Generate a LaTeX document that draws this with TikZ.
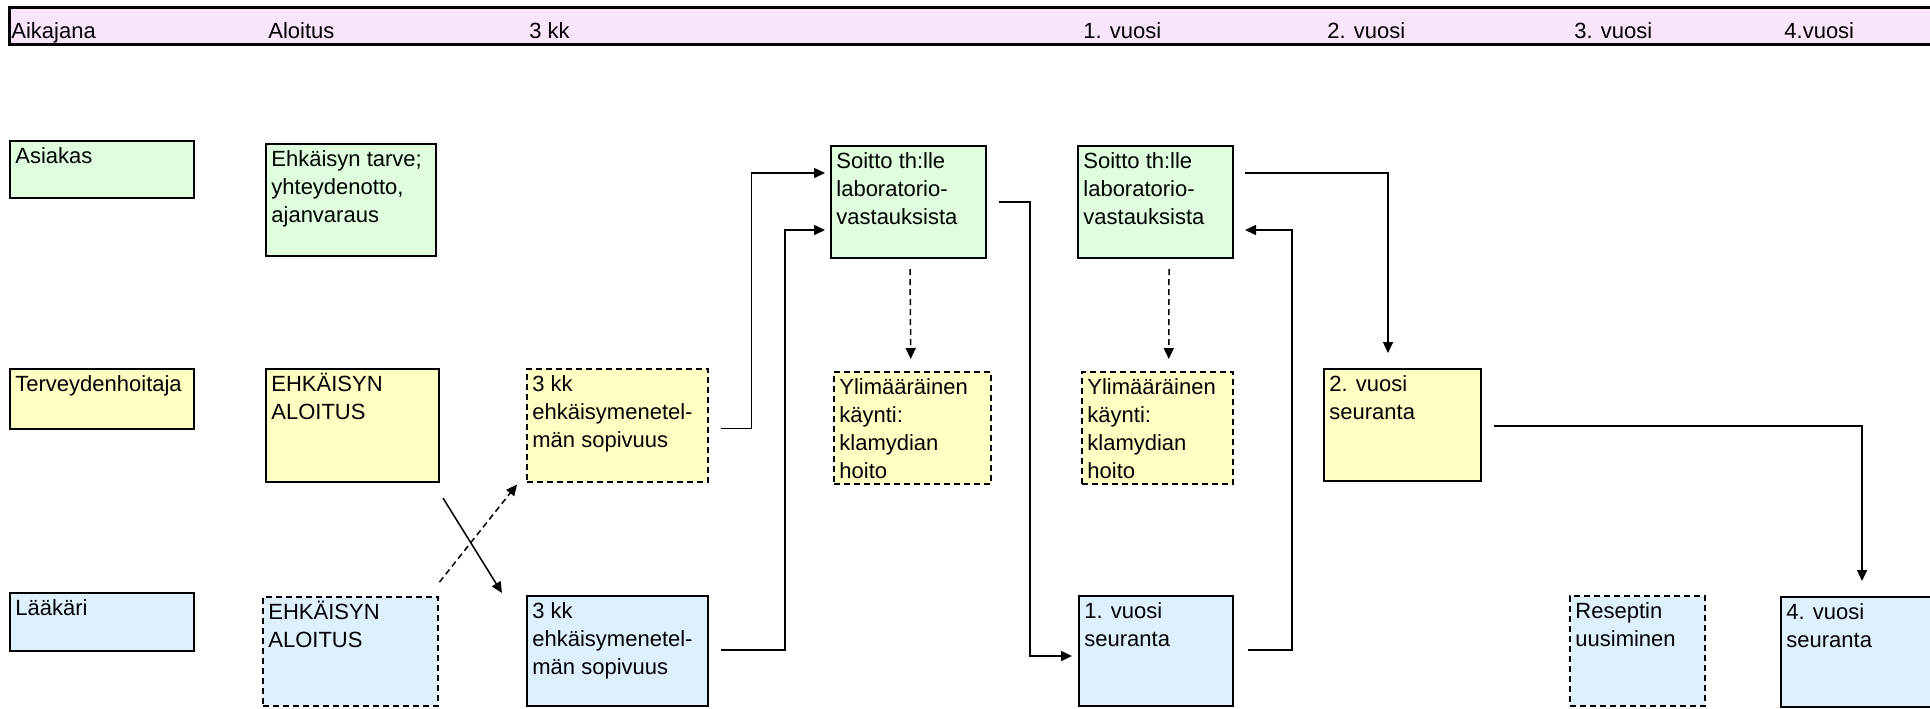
\documentclass[tikz,border=0pt]{standalone}
\usepackage{fontspec}
\setmainfont{Liberation Sans}
\usepackage{xcolor}
\usepackage{tikz}
\usetikzlibrary{arrows.meta}
\definecolor{aikapink}{RGB}{249,229,250}
\definecolor{asgreen}{RGB}{222,254,222}
\definecolor{thyellow}{RGB}{255,255,196}
\definecolor{lkblue}{RGB}{222,240,254}
\tikzstyle{cell} = [draw, line width=1pt, anchor=north west, inner sep=0pt]
\tikzstyle{dcell} = [cell, line width=0.75pt, dash pattern=on 3pt off 2pt]
\tikzstyle{txt} = [anchor=north west, align=left, inner xsep=3pt, inner ysep=1.7pt, font=\fontsize{11}{14}\selectfont]
\tikzstyle{head} = [anchor=base west, inner sep=0pt, font=\fontsize{11}{13}\selectfont]
\tikzstyle{arrow} = [line width=0.75pt, -{Triangle[length=5.5pt,width=5pt]}]
\tikzstyle{darrow} = [arrow, dash pattern=on 3pt off 2pt]

\begin{document}
\begin{tikzpicture}[x=0.5pt, y=-0.5pt]
    \useasboundingbox (0,0) rectangle (1930,708);
    % aikajana
    \draw[fill=aikapink, line width=1.5pt] (9,7) rectangle (1945,44);
    \node[head] (hAika) at (11,38) {Aikajana};
    \node[head] (hAloitus) at (268,38) {Aloitus};
    \node[head] (hKk) at (529,38) {3 kk};
    \node[head] (hV1) at (1083,38) {1. vuosi};
    \node[head] (hV2) at (1327,38) {2. vuosi};
    \node[head] (hV3) at (1574,38) {3. vuosi};
    \node[head] (hV4) at (1784,38) {4.vuosi};
    % roolit
    \node[cell, fill=asgreen, minimum width=92pt, minimum height=28.5pt, label={[txt]north west:{\strut Asiakas}}] (asiakas) at (9,140) {};
    \node[cell, fill=thyellow, minimum width=92pt, minimum height=30pt, label={[txt]north west:{\strut Terveydenhoitaja}}] (terveys) at (9,368) {};
    \node[cell, fill=lkblue, minimum width=92pt, minimum height=29pt, label={[txt]north west:{\strut Lääkäri}}] (laakari) at (9,592) {};
    % aloitus
    \node[cell, fill=asgreen, minimum width=85pt, minimum height=56pt, label={[txt]north west:{\strut Ehkäisyn tarve;\\yhteydenotto,\\ajanvaraus}}] (tarve) at (265,143) {};
    \node[cell, fill=thyellow, minimum width=86.5pt, minimum height=56.5pt, label={[txt]north west:{\strut EHKÄISYN\\ALOITUS}}] (aloitusT) at (265,368) {};
    \node[dcell, fill=lkblue, minimum width=87.5pt, minimum height=54.5pt, label={[txt]north west:{\strut EHKÄISYN\\ALOITUS}}] (aloitusL) at (262,596) {};
    % 3 kk
    \node[dcell, fill=thyellow, minimum width=90.5pt, minimum height=56.5pt, label={[txt]north west:{\strut 3 kk\\ehkäisymenetel-\\män sopivuus}}] (kk3T) at (526,368) {};
    \node[cell, fill=lkblue, minimum width=90.5pt, minimum height=55pt, label={[txt]north west:{\strut 3 kk\\ehkäisymenetel-\\män sopivuus}}] (kk3L) at (526,595) {};
    % soitot ja ylimaaraiset kaynnit
    \node[cell, fill=asgreen, minimum width=77.5pt, minimum height=56pt, label={[txt]north west:{\strut Soitto th:lle\\laboratorio-\\vastauksista}}] (soitto1) at (830,145) {};
    \node[dcell, fill=thyellow, minimum width=78.5pt, minimum height=56pt, label={[txt]north west:{\strut Ylimääräinen\\käynti:\\klamydian\\hoito}}] (ylim1) at (833,371) {};
    \node[cell, fill=asgreen, minimum width=77.5pt, minimum height=56pt, label={[txt]north west:{\strut Soitto th:lle\\laboratorio-\\vastauksista}}] (soitto2) at (1077,145) {};
    \node[dcell, fill=thyellow, minimum width=75.5pt, minimum height=56pt, label={[txt]north west:{\strut Ylimääräinen\\käynti:\\klamydian\\hoito}}] (ylim2) at (1081,371) {};
    % seurannat
    \node[cell, fill=lkblue, minimum width=77pt, minimum height=55pt, label={[txt]north west:{\strut 1. vuosi\\seuranta}}] (vuosi1) at (1078,595) {};
    \node[cell, fill=thyellow, minimum width=78.5pt, minimum height=56pt, label={[txt]north west:{\strut 2. vuosi\\seuranta}}] (vuosi2) at (1323,368) {};
    \node[dcell, fill=lkblue, minimum width=67.5pt, minimum height=55pt, label={[txt]north west:{\strut Reseptin\\uusiminen}}] (resepti) at (1569,595) {};
    \node[cell, fill=lkblue, minimum width=85pt, minimum height=55pt, label={[txt]north west:{\strut 4. vuosi\\seuranta}}] (vuosi4) at (1780,596) {};
    % nuolet
    \draw[arrow] ([shift={(3,15)}]aloitusT.south east) -- ([shift={(-24,-2)}]kk3L.north west);
    \draw[darrow] ([shift={(1,-14)}]aloitusL.north east) -- ([shift={(-9,2)}]kk3T.south west);
    \draw[arrow] ([shift={(12,3)}]kk3T.east) -- ++(31,0) |- ([shift={(-5,-29)}]soitto1.west);
    \draw[arrow] ([shift={(12,-1)}]kk3L.east) -- ++(64,0) |- ([shift={(-5,28)}]soitto1.west);
    \draw[arrow] ([shift={(12,0)}]soitto1.east) -- ++(31,0) |- ([shift={(-6,5)}]vuosi1.west);
    \draw[darrow] ([shift={(1.5,10)}]soitto1.south) -- ([shift={(-1.5,-12)}]ylim1.north);
    \draw[darrow] ([shift={(13.5,10)}]soitto2.south) -- ([shift={(11.5,-12)}]ylim2.north);
    \draw[arrow] ([shift={(14,-1)}]vuosi1.east) -- ++(44,0) |- ([shift={(11,28)}]soitto2.east);
    \draw[arrow] ([shift={(11,-29)}]soitto2.east) -| ([shift={(-14.5,-15)}]vuosi2.north);
    \draw[arrow] ([shift={(12,1)}]vuosi2.east) -| ([shift={(82,-15)}]vuosi4.north west);
\end{tikzpicture}
\end{document}
